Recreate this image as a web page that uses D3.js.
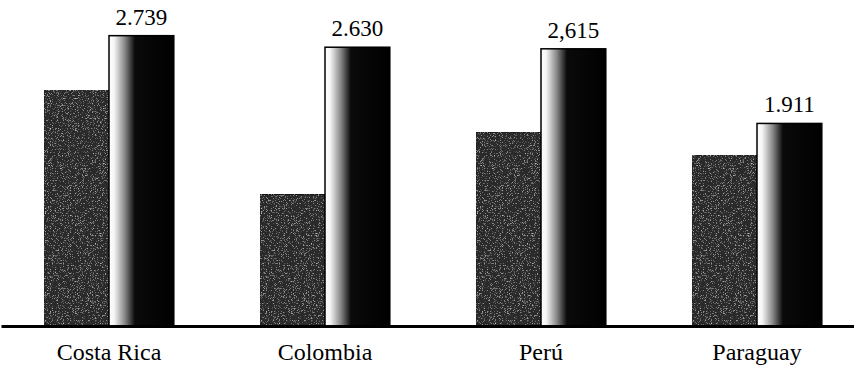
<!DOCTYPE html>
<html>
<head>
<meta charset="utf-8">
<script src="https://cdn.jsdelivr.net/npm/d3@7"></script>
<style>
  body { margin: 0; background: #fff; }
  svg { display: block; }
</style>
</head>
<body>
<svg id="chart"></svg>
<script>
// data
const countries = ["Costa Rica", "Colombia", "Perú", "Paraguay"];
const series = ["a", "b"];
const valuesA = [2220, 1240, 1830, 1610];   // dark bars, not labelled
const valuesB = [2739, 2630, 2615, 1911];   // gradient bars
const labelsB = ["2.739", "2.630", "2,615", "1.911"];

const w = 854;
const h = 366;
const baseY = 326;
const font = "'Liberation Serif'";

const svg = d3.select("#chart")
  .attr("width", w)
  .attr("height", h);

// fills
const defs = svg.append("defs");
const grad = defs.append("linearGradient")
  .attr("id", "shade")
  .attr("x1", "0%").attr("x2", "100%")
  .attr("y1", "0%").attr("y2", "0%");
grad.append("stop").attr("offset", "0%").attr("stop-color", "#ffffff");
grad.append("stop").attr("offset", "8%").attr("stop-color", "#f4f4f4");
grad.append("stop").attr("offset", "24%").attr("stop-color", "#8a8a8a");
grad.append("stop").attr("offset", "40%").attr("stop-color", "#0a0a0a");
grad.append("stop").attr("offset", "100%").attr("stop-color", "#000000");

// stippled look for the dark bars
const grain = defs.append("filter").attr("id", "grain")
  .attr("x", 0).attr("y", 0).attr("width", 1).attr("height", 1);
grain.append("feTurbulence")
  .attr("type", "fractalNoise")
  .attr("baseFrequency", 1.4)
  .attr("numOctaves", 1)
  .attr("seed", 3)
  .attr("result", "noise");
grain.append("feColorMatrix")
  .attr("in", "noise")
  .attr("type", "matrix")
  .attr("values", "0 0 0 0 0.75  0 0 0 0 0.75  0 0 0 0 0.75  0 0 0 -2.6 1.12")
  .attr("result", "dots");
grain.append("feComposite")
  .attr("in", "dots").attr("in2", "SourceGraphic")
  .attr("operator", "in").attr("result", "spots");
grain.append("feMerge").selectAll("feMergeNode")
  .data(["SourceGraphic", "spots"])
  .join("feMergeNode").attr("in", d => d);

// scales
const x0 = d3.scaleBand()
  .domain(countries)
  .range([1, 865])
  .paddingInner(0.4)
  .paddingOuter(0.2);

const x1 = d3.scaleBand()
  .domain(series)
  .range([0, x0.bandwidth()]);

const y = d3.scaleLinear()
  .domain([0, 3000])
  .range([baseY, baseY - 318]);

// bars
const groups = svg.selectAll(".group")
  .data(countries)
  .join("g")
  .attr("class", "group")
  .attr("transform", d => "translate(" + x0(d) + ",0)");

groups.append("rect")
  .attr("x", x1("a"))
  .attr("y", (d, i) => y(valuesA[i]))
  .attr("width", x1.bandwidth())
  .attr("height", (d, i) => baseY - y(valuesA[i]))
  .attr("fill", "#2c2c2c")
  .attr("filter", "url(#grain)")
  .attr("stroke", "#111")
  .attr("stroke-width", 1);

groups.append("rect")
  .attr("x", x1("b"))
  .attr("y", (d, i) => y(valuesB[i]))
  .attr("width", x1.bandwidth())
  .attr("height", (d, i) => baseY - y(valuesB[i]))
  .attr("fill", "url(#shade)")
  .attr("stroke", "#000")
  .attr("stroke-width", 1.5);

groups.append("text")
  .attr("x", x1("b") + x1.bandwidth() / 2)
  .attr("y", (d, i) => y(valuesB[i]) - 11)
  .attr("text-anchor", "middle")
  .style("font-family", font)
  .style("font-size", "23px")
  .attr("fill", "#000")
  .text((d, i) => labelsB[i]);

// baseline + category names
const xAxis = d3.axisBottom(x0)
  .tickSize(0)
  .tickSizeOuter(0)
  .tickPadding(17);

const axisG = svg.append("g")
  .attr("transform", "translate(0," + baseY + ")")
  .call(xAxis);

axisG.select(".domain")
  .attr("stroke", "#000")
  .attr("stroke-width", 3);

axisG.selectAll(".tick text")
  .style("font-family", font)
  .style("font-size", "24px")
  .attr("fill", "#000");
</script>
</body>
</html>
